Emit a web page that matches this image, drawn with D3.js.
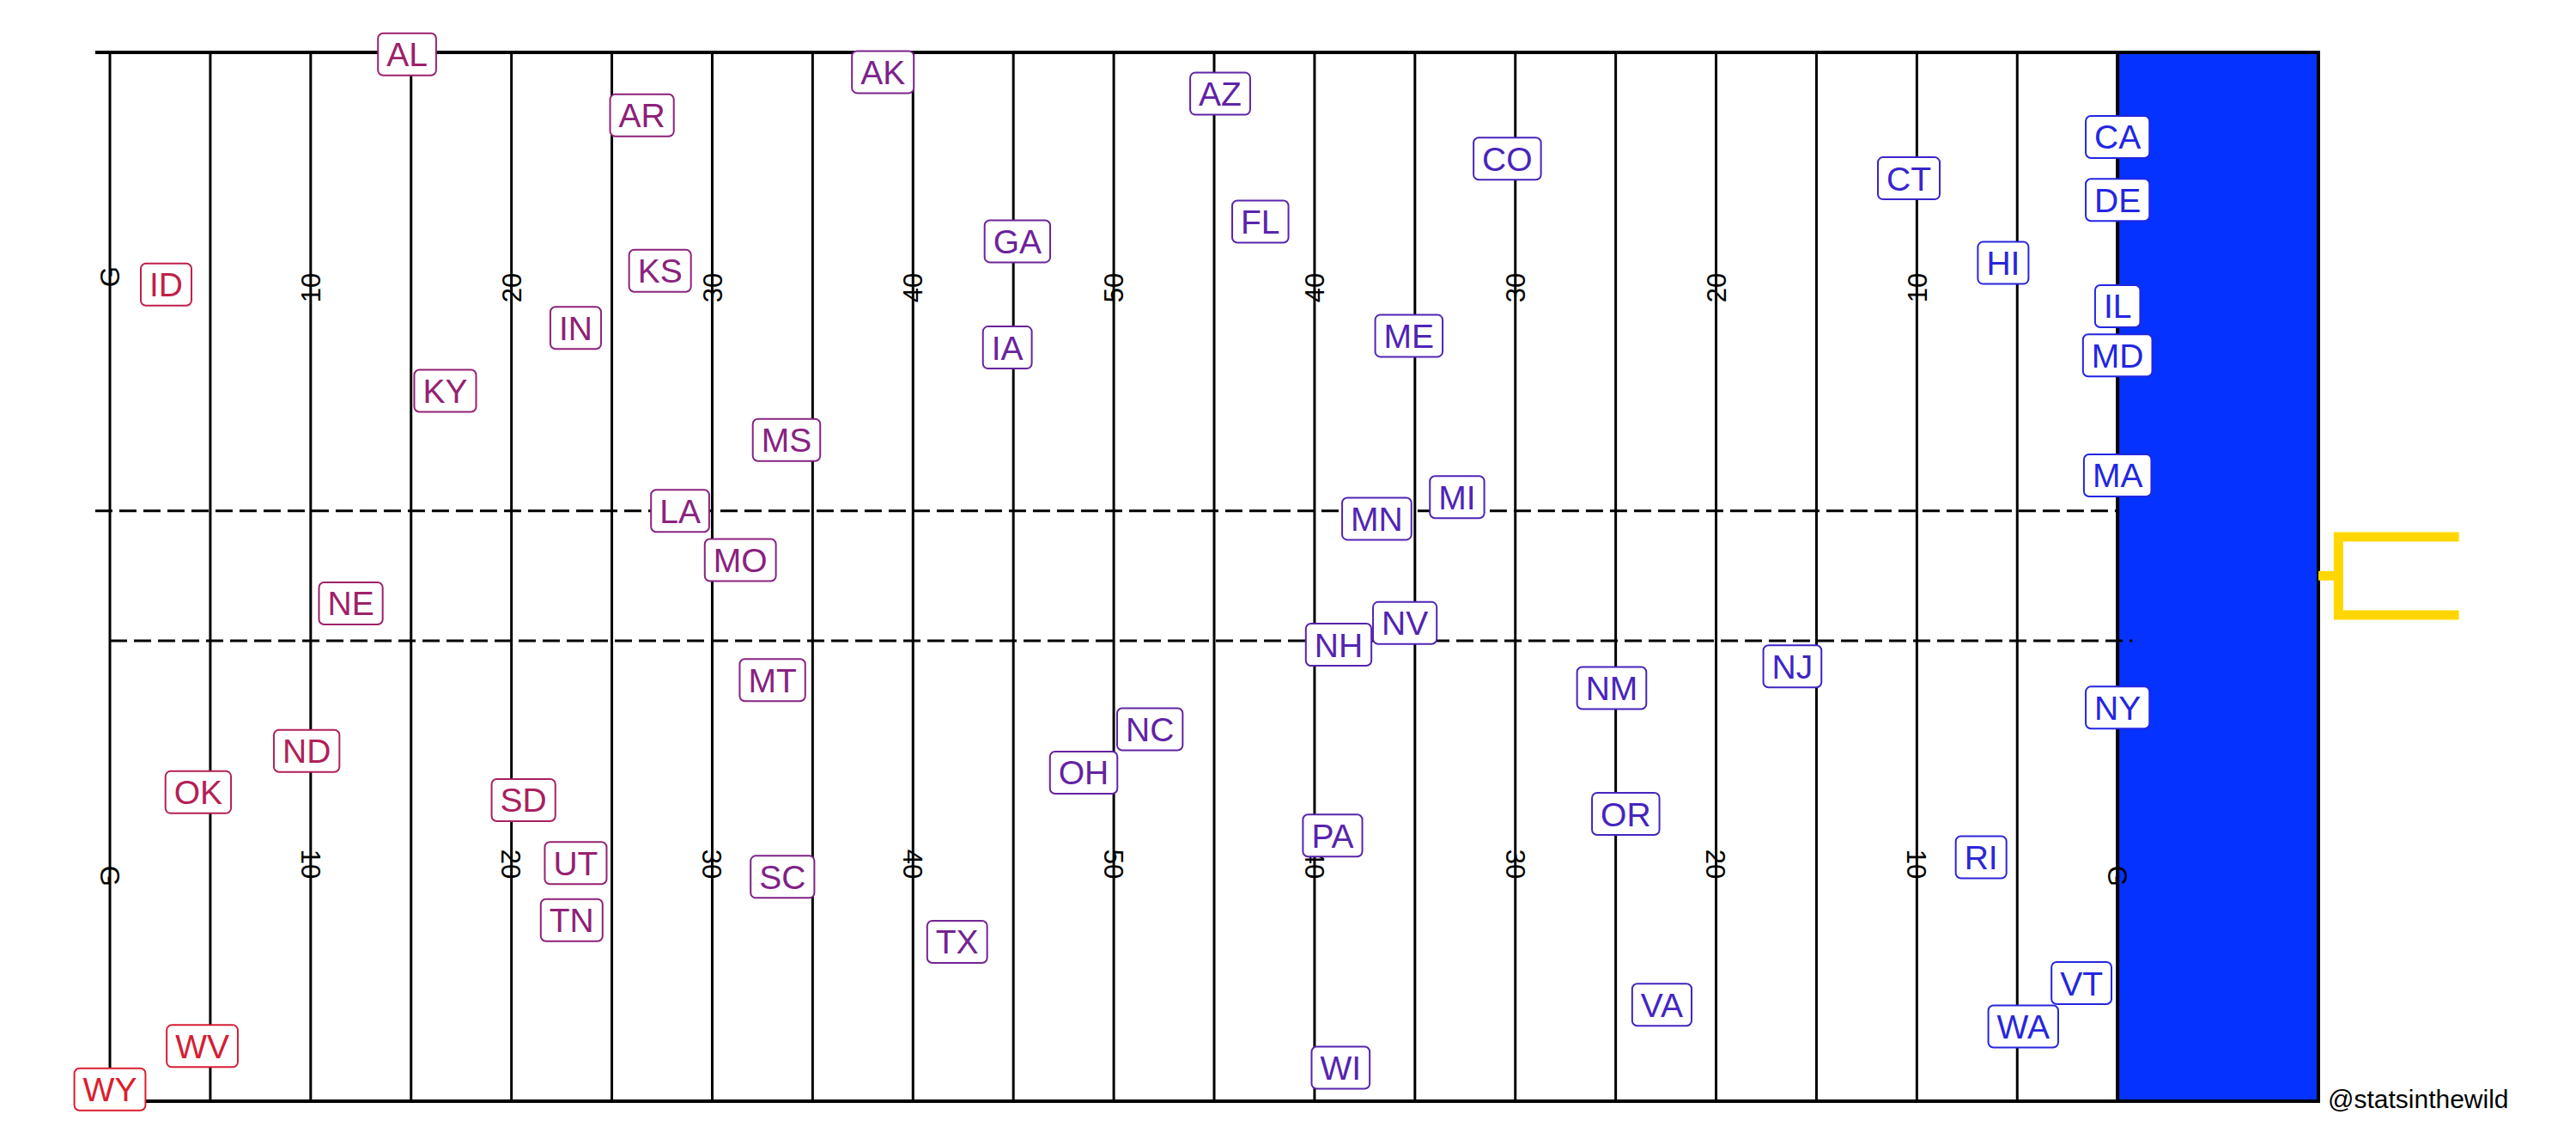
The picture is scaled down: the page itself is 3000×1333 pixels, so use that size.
<!DOCTYPE html>
<html>
<head>
<meta charset="utf-8">
<script src="https://cdn.jsdelivr.net/npm/d3@7"></script>
<style>
  html, body { margin: 0; padding: 0; background: #ffffff; }
  svg { display: block; }
</style>
</head>
<body>
<svg id="chart" width="3000" height="1333"></svg>
<script>
// ---------- DATA ----------
const states = ["AL","AK","AZ","AR","CA","CO","CT","DE","FL","GA",
                "HI","ID","IL","IN","IA","KS","KY","LA","ME","MD",
                "MA","MI","MN","MS","MO","MT","NE","NV","NH","NJ",
                "NM","NY","NC","ND","OH","OK","OR","PA","RI","SC",
                "SD","TN","TX","UT","VT","VA","WA","WV","WI","WY"];
// yard position (0 = left goal line, 100 = right goal line)
const yardPos = [14.8, 38.5, 55.3, 26.5, 100, 69.6, 89.6, 100, 57.3, 45.2,
                 94.3, 2.8, 100, 23.2, 44.7, 27.4, 16.7, 28.4, 64.7, 100,
                 100, 67.1, 63.1, 33.7, 31.4, 33.0, 12.0, 64.5, 61.2, 83.8,
                 74.8, 100, 51.8, 9.8, 48.5, 4.4, 75.5, 60.9, 93.2, 33.5,
                 20.6, 23.0, 42.2, 23.2, 98.2, 77.3, 95.3, 4.6, 61.3, 0];
// label position across the field (yards from bottom sideline)
const fieldPos = [53.2, 52.3, 51.2, 50.1, 49.0, 47.9, 46.9, 45.8, 44.7, 43.7,
                  42.6, 41.5, 40.4, 39.3, 38.3, 42.2, 36.1, 30.0, 38.9, 37.9,
                  31.8, 30.7, 29.6, 33.6, 27.5, 21.4, 25.3, 24.3, 23.2, 22.1,
                  21.0, 20.0, 18.9, 17.8, 16.7, 15.7, 14.6, 13.5, 12.4, 11.4,
                  15.3, 9.2, 8.1, 12.1, 6.0, 4.9, 3.8, 2.8, 1.7, 0.6];
// colour value (0 = red, 1 = blue)
const colorVal = [0.36, 0.53, 0.68, 0.43, 1.00, 0.79, 0.88, 1.00, 0.71, 0.61,
                  0.97, 0.17, 1.00, 0.42, 0.62, 0.45, 0.40, 0.46, 0.76, 1.00,
                  1.00, 0.77, 0.75, 0.47, 0.46, 0.47, 0.34, 0.75, 0.73, 0.86,
                  0.80, 1.00, 0.67, 0.25, 0.65, 0.23, 0.81, 0.71, 0.95, 0.51,
                  0.29, 0.43, 0.57, 0.39, 0.99, 0.82, 0.97, 0.06, 0.73, 0.02];
// yard-line numbers
const topNumberYards = [0, 10, 20, 30, 40, 50, 60, 70, 80, 90];
const topNumberLabels = ["G","10","20","30","40","50","40","30","20","10"];
const bottomNumberYards = [0, 10, 20, 30, 40, 50, 60, 70, 80, 90, 100];
const bottomNumberLabels = ["G","10","20","30","40","50","40","30","20","10","G"];
const yardLines = d3.range(0, 101, 5);
const hashYards = [30.0, 23.4];
const watermark = "@statsinthewild";

// ---------- SCALES ----------
const svg = d3.select("#chart");
const x = d3.scaleLinear().domain([0, 110]).range([128, 2700]);
const y = d3.scaleLinear().domain([0, 53.3]).range([1282, 61]);
const color = d3.scaleLinear().domain([0, 1])
  .range(["#e01e2a", "#2226e2"]).interpolate(d3.interpolateRgb);

const FONT = "'Liberation Sans', Arial, Helvetica, sans-serif";

// ---------- END ZONE ----------
svg.append("rect")
  .attr("x", x(100)).attr("y", y(53.3))
  .attr("width", x(110) - x(100)).attr("height", y(0) - y(53.3))
  .attr("fill", "#0532ff").attr("stroke", "#000").attr("stroke-width", 4);

// ---------- YARD LINES ----------
svg.append("g").selectAll("line").data(yardLines).join("line")
  .attr("x1", d => x(d)).attr("x2", d => x(d))
  .attr("y1", y(53.3)).attr("y2", y(0))
  .attr("stroke", "#000").attr("stroke-width", 3);

// sidelines
svg.append("line")
  .attr("x1", x(-0.73)).attr("x2", x(100)).attr("y1", y(53.3)).attr("y2", y(53.3))
  .attr("stroke", "#000").attr("stroke-width", 4);
svg.append("line")
  .attr("x1", x(0)).attr("x2", x(100.73)).attr("y1", y(0)).attr("y2", y(0))
  .attr("stroke", "#000").attr("stroke-width", 4);

// hash lines (dashed)
svg.append("line")
  .attr("x1", x(-0.73)).attr("x2", x(100)).attr("y1", y(hashYards[0])).attr("y2", y(hashYards[0]))
  .attr("stroke", "#000").attr("stroke-width", 3).attr("stroke-dasharray", "20,8");
svg.append("line")
  .attr("x1", x(0)).attr("x2", x(100.73)).attr("y1", y(hashYards[1])).attr("y2", y(hashYards[1]))
  .attr("stroke", "#000").attr("stroke-width", 3).attr("stroke-dasharray", "20,8");

// ---------- YARD NUMBERS ----------
svg.append("g").selectAll("text").data(topNumberYards).join("text")
  .attr("transform", (d, i) => `translate(${x(d)},${y(topNumberLabels[i] === "G" ? 41.9 : 41.34)}) rotate(-90)`)
  .attr("text-anchor", "middle").attr("dy", "0.36em")
  .attr("font-family", FONT).attr("font-size", 31).attr("fill", "#000")
  .text((d, i) => topNumberLabels[i]);
svg.append("g").selectAll("text").data(bottomNumberYards).join("text")
  .attr("transform", (d, i) => `translate(${x(d)},${y(bottomNumberLabels[i] === "G" ? 11.44 : 12.05)}) rotate(90)`)
  .attr("text-anchor", "middle").attr("dy", "0.36em")
  .attr("font-family", FONT).attr("font-size", 31).attr("fill", "#000")
  .text((d, i) => bottomNumberLabels[i]);

// ---------- GOAL POST ----------
const gp = d3.path();
gp.moveTo(x(110), y(26.7)); gp.lineTo(x(111), y(26.7));
gp.moveTo(x(117), y(28.68)); gp.lineTo(x(111), y(28.68));
gp.lineTo(x(111), y(24.71)); gp.lineTo(x(117), y(24.71));
svg.append("path").attr("d", gp.toString())
  .attr("fill", "none").attr("stroke", "#FFD700").attr("stroke-width", 11);

// ---------- STATE LABELS ----------
const FS = 39, PADX = 10, BOXH = 49;
const lab = svg.append("g").selectAll("g").data(states).join("g")
  .attr("transform", (d, i) => `translate(${x(yardPos[i])},${y(fieldPos[i])})`);
lab.append("rect")
  .attr("fill", "#fff")
  .attr("stroke", (d, i) => color(colorVal[i]))
  .attr("stroke-width", 2).attr("rx", 6).attr("ry", 6);
const texts = lab.append("text")
  .attr("text-anchor", "middle")
  .attr("y", FS * 0.716 / 2)
  .attr("font-family", FONT).attr("font-size", FS)
  .attr("fill", (d, i) => color(colorVal[i]))
  .text(d => d);
texts.each(function() {
  const w = this.getComputedTextLength() + 2 * PADX;
  d3.select(this.parentNode).select("rect")
    .attr("x", -w / 2).attr("y", -BOXH / 2)
    .attr("width", w).attr("height", BOXH);
});

// ---------- WATERMARK ----------
svg.append("text")
  .attr("x", 2711).attr("y", 1290)
  .attr("font-family", FONT).attr("font-size", 30).attr("fill", "#000")
  .text(watermark);
</script>
</body>
</html>
